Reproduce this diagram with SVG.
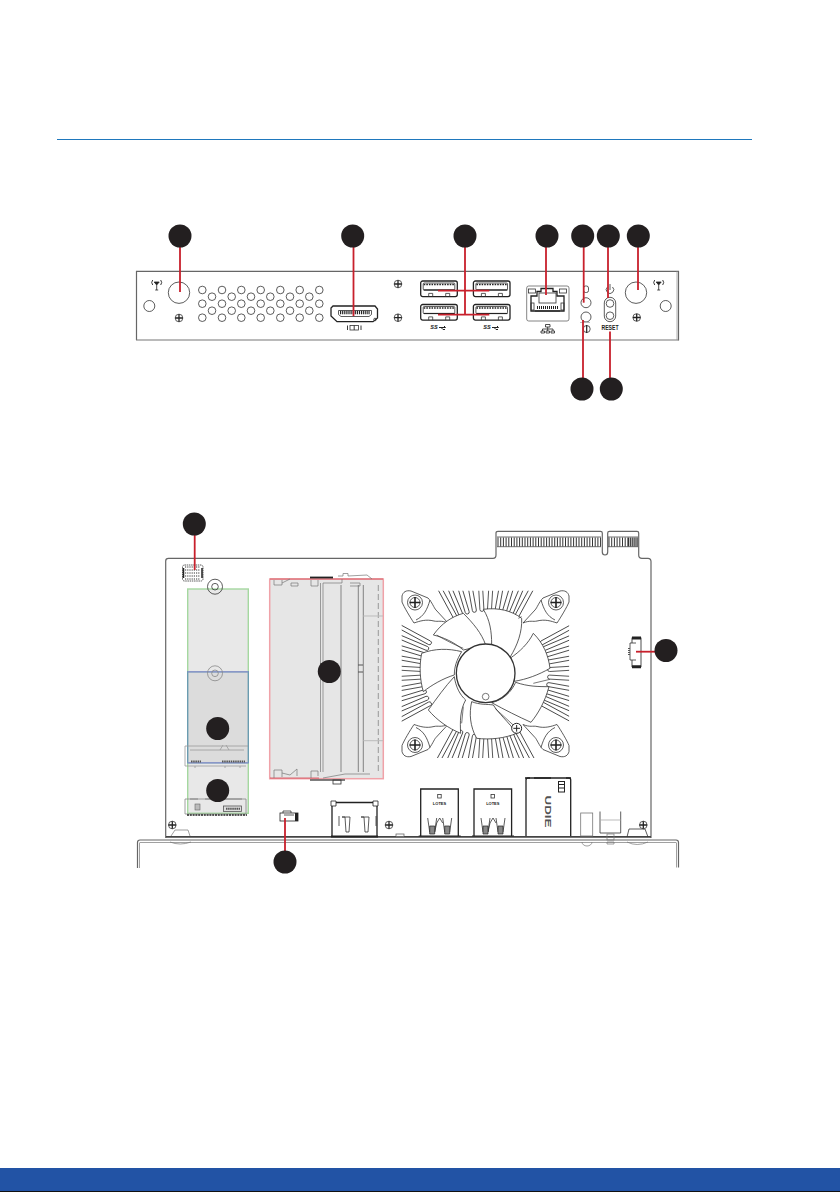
<svg xmlns="http://www.w3.org/2000/svg" xmlns:xlink="http://www.w3.org/1999/xlink" width="840" height="1192" viewBox="0 0 840 1192">
<style>
.board{fill:none;stroke:#666;stroke-width:1.200}
.ln{fill:none;stroke:#333;stroke-width:.8}
.wh{fill:#fff;stroke:#333;stroke-width:.8}
.dk{fill:none;stroke:#222;stroke-width:1.300}
.fin{fill:#fff;stroke:#333;stroke-width:.8}
.blade{fill:#fff;stroke:#333;stroke-width:2.400;stroke-linejoin:round}
.lead{fill:none;stroke:#c8202c;stroke-width:1.800}
.dot{fill:#231f20}
.t{font-family:"Liberation Sans",Arial,sans-serif;font-weight:700;fill:#222;text-anchor:middle}
.part{fill:none;stroke:#777;stroke-width:.7}
</style>
<defs>
<clipPath id="sq"><rect x="401.700" y="590.700" width="167.400" height="167.400" rx="3"/></clipPath>
<rect id="f" x="-2" y="-118" width="4" height="56" rx="2" class="fin"/>
<g id="screw"><circle r="3.800" class="wh"/><path d="M-3.800 0H3.800M0-3.800V3.800" stroke="#222" stroke-width="1.300"/></g>
<g id="ant"><path d="M-2.500-3L0 0L2.500-3ZM0 0V5M-1.500 5H1.500" fill="#222" stroke="#222" stroke-width=".8"/><path d="M-4-5Q-6-2.500-4 0M4-5Q6-2.500 4 0" fill="none" stroke="#222" stroke-width=".9"/></g>
<g id="usbA"><rect width="36.600" height="15.600" rx="2" class="dk"/><rect x="2.500" y="2" width="31.600" height="7" rx="1" class="ln"/><path d="M3 3.400H34" stroke="#222" stroke-width="1.500" stroke-dasharray="1.600 1"/><path d="M3 9H34" stroke="#222" stroke-width="1.200"/><path d="M8 15.600V12.400H12V15.600M25 15.600V12.400H29V15.600" class="ln"/></g>
<g id="ss"><text class="t" font-size="5.500" x="-3" y="2.200" font-style="italic">SS</text><path d="M2 .5H8.500M8.500 .5L7-1M4 .5L6 2.500H8" stroke="#222" stroke-width="1" fill="none"/></g>
<g id="corner"><path d="M6 6C7 2 10 0 15 1L32 8C36 12 38 18 40 20L52 33C45 30 42 32 38 31C30 29 24 31 18 33C14 27 8 17 6 12Z" class="wh"/><path d="M34 10C31 20 28 26 20 30" class="ln"/><circle cx="19" cy="12.500" r="7.500" class="wh"/><circle cx="19" cy="12.500" r="5" class="ln"/><path d="M13.500 12.500H24.500M19 7V18" stroke="#222" stroke-width="1.600"/></g>
<g id="lotes"><path d="M0 48V1H37.600V48" class="dk"/><rect x="17" y="6.500" width="3.500" height="3.500" class="ln"/><text class="t" x="18.800" y="16.500" font-size="4">LOTES</text><path d="M7 30L9 44H14L16 30M14 44L16 35M16 35L19 30L22 35M24 44H29L31 30M22 30L24 44" class="ln" stroke-width="1"/><path d="M9 38H14V46H9ZM24 38H29V46H24Z" fill="#888" stroke="#222" stroke-width=".7"/><path d="M-2 48H40" stroke="#222" stroke-width="1.200"/></g>
</defs>

<rect width="840" height="1192" fill="#fff"/>
<path d="M57 139.500H752" stroke="#1f78bd" stroke-width="1"/>
<rect x="0" y="1168" width="840" height="23" fill="#2253a5"/>
<rect x="0" y="1191" width="840" height="1" fill="#111"/>

<g id="rear-panel">
<path class="board" d="M136.500 340V271.300H678.500V340.500"/>
<path d="M136 340H678.500" stroke="#777" stroke-width="1.200"/>
<path d="M677 271.300V340" stroke="#999" stroke-width=".8"/>
<g id="vent" class="ln">
<circle cx="202.300" cy="290" r="3.800"/><circle cx="202.300" cy="303.700" r="3.800"/><circle cx="202.300" cy="317.700" r="3.800"/>
<circle cx="212" cy="296.700" r="3.800"/><circle cx="212" cy="310.700" r="3.800"/>
<circle cx="222" cy="290" r="3.800"/><circle cx="222" cy="303.700" r="3.800"/><circle cx="222" cy="317.700" r="3.800"/>
<circle cx="231.700" cy="296.700" r="3.800"/><circle cx="231.700" cy="310.700" r="3.800"/>
<circle cx="241.300" cy="290" r="3.800"/><circle cx="241.300" cy="303.700" r="3.800"/><circle cx="241.300" cy="317.700" r="3.800"/>
<circle cx="251" cy="296.700" r="3.800"/><circle cx="251" cy="310.700" r="3.800"/>
<circle cx="260.700" cy="290" r="3.800"/><circle cx="260.700" cy="303.700" r="3.800"/><circle cx="260.700" cy="317.700" r="3.800"/>
<circle cx="270.300" cy="296.700" r="3.800"/><circle cx="270.300" cy="310.700" r="3.800"/>
<circle cx="280.300" cy="290" r="3.800"/><circle cx="280.300" cy="303.700" r="3.800"/><circle cx="280.300" cy="317.700" r="3.800"/>
<circle cx="290" cy="296.700" r="3.800"/><circle cx="290" cy="310.700" r="3.800"/>
<circle cx="299.700" cy="290" r="3.800"/><circle cx="299.700" cy="303.700" r="3.800"/><circle cx="299.700" cy="317.700" r="3.800"/>
<circle cx="309.300" cy="296.700" r="3.800"/><circle cx="309.300" cy="310.700" r="3.800"/>
<circle cx="319.300" cy="290" r="3.800"/><circle cx="319.300" cy="303.700" r="3.800"/><circle cx="319.300" cy="317.700" r="3.800"/>
</g>
<g id="antenna-left"><circle cx="179" cy="292.700" r="10.700" class="ln"/><circle cx="149.300" cy="306" r="5.500" class="ln"/><use href="#ant" x="156.700" y="285"/><use href="#screw" x="179" y="318"/></g>
<g id="dp-port"><path class="dk" d="M333 306H375L377.500 309V318L373 321.700H337L331 316V308Z"/><path d="M338.500 310.500H371.500V314.500L369 316.500H341L338.500 314.500Z" class="ln"/><path d="M340 312.500H370" stroke="#222" stroke-width="3.500" stroke-dasharray="1.200 .9"/><circle cx="375" cy="319.500" r="1.300" class="ln"/><rect x="350" y="325.500" width="8.500" height="4.500" class="ln"/><path d="M354.200 325.500V330M347.500 325.500V330M361 325.500V330" stroke="#222" stroke-width=".9"/></g>
<use href="#screw" x="398" y="284"/><use href="#screw" x="398" y="317.700"/>
<g id="usb-ports"><use href="#usbA" x="420.700" y="281"/><use href="#usbA" x="473.400" y="281"/><use href="#usbA" x="420.700" y="304.500"/><use href="#usbA" x="473.400" y="304.500"/><use href="#ss" x="437" y="327"/><use href="#ss" x="490" y="327"/></g>
<g id="lan-port"><rect x="526.700" y="286" width="42.300" height="35" rx="2" fill="none" stroke="#666" stroke-width=".8"/><path class="dk" d="M531 296H537V291.500H541V288.500H553V291.500H557V296H564V311H531Z"/><rect x="539" y="293" width="17" height="10" class="ln"/><rect x="528.500" y="289" width="7" height="4" class="ln"/><rect x="559.500" y="289" width="7" height="4" class="ln"/><rect x="531" y="303" width="3" height="7" class="ln"/><rect x="561" y="303" width="3" height="7" class="ln"/><path d="M537 307.500H558" stroke="#222" stroke-width="3" stroke-dasharray="1 1"/><path d="M535 311H560" stroke="#222" stroke-width="1"/><path d="M545.500 324.500H550V327H545.500ZM547.700 327V329M542.500 329H553M542.500 329V331M553 329V331M547.700 329V331M541 331H544.500V333H541ZM546 331H549.500V333H546ZM551 331H554.500V333H551Z" fill="none" stroke="#222" stroke-width=".8"/></g>
<g id="led-audio"><rect x="583.500" y="286" width="5" height="6.500" rx="2" class="ln" stroke-width="1"/><circle cx="586" cy="302.700" r="5" class="wh" stroke-width="1.200"/><circle cx="586" cy="317" r="5" class="wh" stroke-width=".9"/><path d="M580 322.500H590" stroke="#bbb" stroke-width="1"/><circle cx="586.700" cy="329" r="3.500" class="ln" stroke-width="1"/><path d="M586.700 325V333" stroke="#222" stroke-width="1.200"/></g>
<g id="power-reset"><path d="M607.500 287A3.700 3.700 0 1 0 612.500 287M610 284V290" class="ln" stroke-width="1"/><rect x="604.300" y="297.300" width="11.400" height="24.400" rx="5.700" class="ln" stroke-width=".9"/><circle cx="610" cy="303.500" r="3.800" class="wh" stroke-width="1.300"/><circle cx="610" cy="315.700" r="3.800" class="wh" stroke-width="1.300"/><text class="t" x="610" y="330" font-size="6.500" textLength="17" lengthAdjust="spacingAndGlyphs">RESET</text></g>
<g id="antenna-right"><circle cx="636" cy="292.700" r="10.700" class="ln"/><circle cx="665.700" cy="306" r="5.500" class="ln"/><use href="#ant" x="658.700" y="285"/><use href="#screw" x="636.700" y="317.500"/></g>
</g>

<g id="main-board">
<path class="board" d="M165.700 838V561Q165.700 558.300 168.500 558.300H493Q496 558.300 496 555V533Q496 531.300 498 531.300H600.500Q602.300 531.300 602.300 533V552Q602.300 555 605 555Q607.700 555 607.700 552V533Q607.700 531.300 609.500 531.300H637Q638.700 531.300 638.700 533V555Q638.700 558.300 642 558.300H648Q651 558.300 651 561.500V838"/>
<path d="M497 537H601M608 537H638M497 546.700H601M608 546.700H638" stroke="#333" stroke-width=".7"/>
<path d="M497.500 542H601" stroke="#333" stroke-width="9" stroke-dasharray="1 1.700"/>
<path d="M608.500 542H628" stroke="#333" stroke-width="9" stroke-dasharray="1 1.700"/>
<path d="M628 542H638" stroke="#333" stroke-width="9" stroke-dasharray="1.300 .8"/>
<path d="M166 836.800H651" stroke="#444" stroke-width="1.800"/>
<path d="M137.500 868V842.500Q137.500 840 140 840H676Q678.500 840 678.500 842.500V867.500" class="board"/>
<path d="M139.500 868V842.500M676.500 842.500V867.500M140 842.500H676" stroke="#888" stroke-width=".8" fill="none"/>
</g>

<g id="memory-slot">
<rect x="269.700" y="579" width="113.600" height="199.700" fill="#e6e6e6" stroke="#f0a2a8" stroke-width="1.500"/>
<path d="M270 579H383M270 778H319" stroke="#c8202c" stroke-width=".6"/>
<path d="M320.500 583V772M323 583V772" stroke="#777" stroke-width=".7"/>
<path d="M358.300 585V772M363.300 585V772" stroke="#777" stroke-width=".9"/>
<path d="M378.300 585V772" stroke="#777" stroke-width=".7" stroke-dasharray="6 3"/>
<path d="M341 585V772" stroke="#b5b5b5" stroke-width="2"/>
<path d="M363.300 616H383M363.300 740.700H383" stroke="#bbb" stroke-width="1"/>
<path d="M274 580V585H282V580M282 583L290 579M291 583H298V586H291ZM311 580V586H318V580M323 583H342V579M350 583H360V586H350" class="part"/>
<path d="M310 577.500H333" stroke="#222" stroke-width="1.800"/>
<path d="M338 576L343 576V573.500H348V576L367 575L372 579" class="part" stroke="#555"/>
<path d="M274 778V770H282V777M282 773L290 775L297 769V776M311 778V771H318V776M323 778L345 774H370" class="part"/>
<path d="M310 780H345" stroke="#555" stroke-width="1.300"/>
<rect x="333" y="780" width="8" height="4" class="ln"/>
<path d="M320 664H323M320 674H323M358 665H363M358 672H363" stroke="#555" stroke-width="1"/>
</g>

<g id="m2-slots">
<rect x="187.700" y="589" width="60.600" height="224.300" fill="#e8e8e8" stroke="#a5d8a0" stroke-width="1.400"/>
<rect x="187.700" y="671.700" width="60.600" height="91" fill="#dcdcdc" stroke="#6a9cb0" stroke-width="1.400"/>
<path d="M187.700 671.700H248.300M187.700 762.700H248.300" stroke="#8a97c8" stroke-width="1.400"/>
<circle cx="215" cy="586.700" r="7.500" class="ln"/><circle cx="215" cy="586.700" r="3.300" class="ln"/>
<circle cx="215" cy="673.300" r="7.500" fill="none" stroke="#888" stroke-width=".8"/><circle cx="215" cy="673.300" r="3.300" fill="none" stroke="#888" stroke-width=".8"/>
<path d="M248 746H185V766H246M190 750H244M220 750L223 745M226 745L229 750M195 766V768M225 766V768M240 766V768" fill="none" stroke="#999" stroke-width=".8"/>
<path d="M191 761.500H201M222 761.500H245" stroke="#555" stroke-width="2" stroke-dasharray="1.500 .7"/>
<path d="M246 799H185V814H246Z" fill="none" stroke="#888" stroke-width=".8"/>
<path d="M190 799H198M205 799H242" stroke="#777" stroke-width=".8"/>
<rect x="223.500" y="806" width="18" height="5.500" fill="#ddd" stroke="#555" stroke-width=".8"/>
<path d="M226 808.700H240" stroke="#555" stroke-width="2" stroke-dasharray="1.500 .6"/>
<rect x="195" y="804" width="5" height="6" fill="#bbb" stroke="#666" stroke-width=".6"/>
<path d="M187 815H247" stroke="#222" stroke-width="1.500" stroke-dasharray="2 .8"/>
</g>

<g id="front-connector"><rect x="182.500" y="565" width="20.500" height="16" rx="2" class="ln" stroke-dasharray="1.500 .7"/><path d="M185 567H200M185 570H200M185 573H200M185 576H200M185 579H200" stroke="#333" stroke-width="1" stroke-dasharray="1.200 1"/><path d="M183.500 568V578M202 568V578" stroke="#222" stroke-width="1.500"/></g>

<g id="cooler">
<g clip-path="url(#sq)">
<g id="fins">
<use href="#f" transform="translate(485.700 673.300) rotate(-28.500)"/>
<use href="#f" transform="translate(485.700 673.300) rotate(-22.900)"/>
<use href="#f" transform="translate(485.700 673.300) rotate(-16.800)"/>
<use href="#f" transform="translate(485.700 673.300) rotate(-10.200)"/>
<use href="#f" transform="translate(485.700 673.300) rotate(-3.400)"/>
<use href="#f" transform="translate(485.700 673.300) rotate(3.400)"/>
<use href="#f" transform="translate(485.700 673.300) rotate(10.200)"/>
<use href="#f" transform="translate(485.700 673.300) rotate(16.800)"/>
<use href="#f" transform="translate(485.700 673.300) rotate(22.900)"/>
<use href="#f" transform="translate(485.700 673.300) rotate(28.500)"/>
</g>
<use href="#fins" transform="rotate(90 485.700 673.300)"/>
<use href="#fins" transform="rotate(180 485.700 673.300)"/>
<use href="#fins" transform="rotate(270 485.700 673.300)"/>
</g>
<use href="#corner" transform="translate(396 590)"/>
<use href="#corner" transform="translate(575 590) scale(-1 1)"/>
<use href="#corner" transform="translate(396 757.500) scale(1 -1)"/>
<use href="#corner" transform="translate(575 757.500) scale(-1 -1)"/>
<g transform="translate(395 520) scale(.3333)">
<path class="blade" d="M115 345C140 310 170 290 205 280C235 310 260 340 272 375L205 390C175 365 145 352 115 345Z"/>
<path class="blade" d="M265 268C310 262 350 272 380 295C382 335 368 375 345 412L290 372C290 335 285 300 265 268Z"/>
<path class="blade" d="M415 340C445 370 460 405 465 445C430 465 395 478 358 484L345 415C375 395 400 370 415 340Z"/>
<path class="blade" d="M362 487C400 500 430 500 462 500C450 545 430 580 408 607C370 590 330 570 290 548C325 540 350 515 362 487Z"/>
<path class="blade" d="M230 545C255 555 275 552 295 555C310 580 340 605 365 640C330 655 285 660 245 655C225 620 222 580 230 545Z"/>
<path class="blade" d="M80 400C120 385 160 385 200 395C185 420 178 440 178 465C145 475 110 495 85 515C75 480 72 440 80 400Z"/>
<path class="blade" d="M178 470C182 500 195 525 212 540C195 570 195 605 197 640C160 625 125 600 100 570C125 535 150 500 178 470Z"/>
<path d="M125 345C150 360 180 375 205 385M370 295L380 290M415 490L465 478M300 565L360 620M205 560L200 610" fill="none" stroke="#333" stroke-width="2"/>
<circle cx="272" cy="460" r="88" fill="#fff" stroke="#333" stroke-width="4"/>
<circle cx="272" cy="530" r="10" fill="#fff" stroke="#333" stroke-width="2"/>
<circle cx="365" cy="625" r="15" fill="#fff" stroke="#222" stroke-width="3"/>
<path d="M355 625H375M365 615V635" stroke="#222" stroke-width="3"/>
</g>
</g>

<g id="fan-connector"><rect x="632" y="638" width="9" height="28.700" fill="#fff" stroke="#222" stroke-width=".8"/><path d="M632 638H641M632 666.700H641" stroke="#222" stroke-width="3"/><path d="M636 643H630V660H636" class="wh"/><path d="M629 648V656" stroke="#555" stroke-width="2" stroke-dasharray="1 1"/></g>

<g id="power-connector"><rect x="280" y="813" width="18" height="8" fill="#fff" stroke="#222" stroke-width=".8"/><path d="M295 813V821H298V813Z" fill="#222"/><path d="M283 813V811H291V813M284 815H294" class="ln"/></g>

<g id="bottom-ports">
<g id="dp-top"><path d="M332 836V804M377 836V804M332 802.500H377" class="dk"/><path d="M331 801H336V806H331ZM373 801H378V806H373Z" fill="#fff" stroke="#222" stroke-width=".8"/><path d="M339 816V826M376 816V826M342 817H345L346 832H349L350 817H346ZM361 817H364L365 832H368L369 817H365Z" class="ln"/><path d="M331 836.500H378" stroke="#222" stroke-width="2"/></g>
<use href="#screw" x="389" y="825"/>
<use href="#lotes" x="420.700" y="788"/>
<use href="#lotes" x="474" y="788"/>
<g id="pcie-top"><path class="dk" d="M526 836V780Q526 778 528 778H569Q570.700 778 570.700 780V836"/><path d="M525 778H530M566 778H571M534 778H551" stroke="#222" stroke-width="1.600"/><rect x="558.500" y="781.500" width="6" height="10.500" fill="#fff" stroke="#222" stroke-width="1"/><path d="M559 784.500H564M559 788H564" stroke="#222" stroke-width="1.200"/><text class="t" font-size="9" fill-opacity=".8" transform="translate(544.500 811.500) rotate(90)" textLength="32" lengthAdjust="spacingAndGlyphs">UDIE</text></g>
<rect x="580.700" y="813" width="12" height="23" fill="#fff" stroke="#777" stroke-width=".8"/>
<path d="M600 811.500V833H620.700V811.500" class="ln" stroke-width="1"/><path d="M600 820H620.700" stroke="#aaa" stroke-width=".8"/>
<rect x="607" y="834" width="7" height="6" fill="none" stroke="#777" stroke-width=".7"/>
<path d="M582 842A5 4 0 0 0 592 842M607 842H614V844H607ZM627 842Q637 847 648 842" class="part"/>
<rect x="396" y="834" width="8" height="2.500" fill="#fff" stroke="#555" stroke-width=".7"/>
<path d="M627 837L629 829H645L648 837" class="ln"/>
<use href="#screw" x="643.300" y="825"/>
<use href="#screw" x="172.300" y="825"/>
<path d="M171 836L175 830H188L190 836M170 842Q180 846 191 842" class="part" stroke="#444"/>
</g>

<g id="connectors" class="lead">
<path d="M180 236V292"/>
<path d="M353.500 236V316"/>
<path d="M465 236V314.700M438 290.700H489.300M438 314.700H489.300"/>
<path d="M546 236V295"/>
<path d="M583.700 236V302.700"/>
<path d="M608 236V298"/>
<path d="M638 236V290"/>
<path d="M583 389V320"/>
<path d="M610 389V331.500"/>
<path d="M194.700 524V570"/>
<path d="M636 651.700H665"/>
<path d="M285 862V818"/>
</g>

<g id="n1"><circle class="dot" cx="180" cy="236" r="11.500"/></g>
<g id="n2"><circle class="dot" cx="352.700" cy="236" r="11.500"/></g>
<g id="n3"><circle class="dot" cx="465" cy="236" r="11.500"/></g>
<g id="n4"><circle class="dot" cx="547" cy="236" r="11.500"/></g>
<g id="n5"><circle class="dot" cx="582.700" cy="236" r="11.500"/></g>
<g id="n6"><circle class="dot" cx="608.300" cy="236" r="11.500"/></g>
<g id="n7"><circle class="dot" cx="638.300" cy="236" r="11.500"/></g>
<g id="n8"><circle class="dot" cx="582" cy="389" r="11.500"/></g>
<g id="n9"><circle class="dot" cx="611.300" cy="389" r="11.500"/></g>
<g id="n10"><circle class="dot" cx="194.300" cy="524" r="11.500"/></g>
<g id="n11"><circle class="dot" cx="329.300" cy="671.500" r="11.500"/></g>
<g id="n12"><circle class="dot" cx="217.700" cy="728.500" r="11.500"/></g>
<g id="n13"><circle class="dot" cx="217.700" cy="790.500" r="11.500"/></g>
<g id="n14"><circle class="dot" cx="285" cy="862" r="11.500"/></g>
<g id="n15"><circle class="dot" cx="666" cy="650.500" r="11.500"/></g>
</svg>
